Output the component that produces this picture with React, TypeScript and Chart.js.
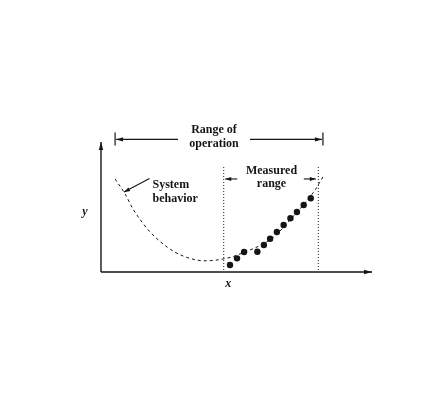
import React, { useEffect, useRef } from "react";
import { Chart, registerables } from "chart.js";
Chart.register(...registerables);

// System behavior curve (dashed)
const curveX = [5.2, 8.9, 11.8, 15.1, 18.1, 24.4, 30.3, 38.4, 47.6, 53.1, 58.7, 64.2, 69.7, 75.3, 79.0, 81.9];
const curveY = [71.5, 60, 48.5, 38.5, 30.8, 19.2, 12.3, 8.6, 11.2, 15.4, 20.4, 27.7, 40, 53.1, 63.1, 73.1];
// Measured points
const measuredX = [47.6, 50.2, 52.8, 57.7, 60.1, 62.4, 64.9, 67.4, 69.9, 72.3, 74.8, 77.4];
const measuredY = [5.4, 10.5, 15.4, 15.6, 20.8, 25.6, 30.8, 36.2, 41.3, 46.2, 51.5, 56.7];
// Ranges
const operationRange = [5.2, 81.9];
const operationLevel = 102;
const measuredRange = [45.1, 80.0];
const measuredTop = 80.8;
// Text
const operationLabel = ["Range of", "operation"];
const measuredLabel = ["Measured", "range"];
const behaviorLabel = ["System", "behavior"];
const xLabel = "x";
const yLabel = "y";

const INK = "#151515";
const FONT = "bold 12px 'Liberation Serif', 'Times New Roman', serif";

function arrow(ctx: CanvasRenderingContext2D, x1: number, y1: number, x2: number, y2: number, len = 7, half = 2.2) {
  ctx.beginPath();
  ctx.moveTo(x1, y1);
  ctx.lineTo(x2, y2);
  ctx.stroke();
  const a = Math.atan2(y2 - y1, x2 - x1);
  ctx.beginPath();
  ctx.moveTo(x2, y2);
  ctx.lineTo(x2 - len * Math.cos(a) + half * Math.sin(a), y2 - len * Math.sin(a) - half * Math.cos(a));
  ctx.lineTo(x2 - len * Math.cos(a) - half * Math.sin(a), y2 - len * Math.sin(a) + half * Math.cos(a));
  ctx.closePath();
  ctx.fill();
}

const decor = {
  id: "decor",
  afterDatasetsDraw(chart: any) {
    const { ctx, chartArea } = chart;
    const xs = chart.scales.x;
    const ys = chart.scales.y;
    const X = (v: number) => xs.getPixelForValue(v);
    const Y = (v: number) => ys.getPixelForValue(v);
    ctx.save();
    ctx.strokeStyle = INK;
    ctx.fillStyle = INK;

    // axes
    ctx.lineWidth = 1.4;
    arrow(ctx, chartArea.left, chartArea.bottom, chartArea.left, chartArea.top, 8, 2.2);
    arrow(ctx, chartArea.left, chartArea.bottom, chartArea.right, chartArea.bottom, 8, 2.2);

    // dotted verticals for measured range
    ctx.lineWidth = 1;
    ctx.setLineDash([1, 2]);
    for (const v of measuredRange) {
      ctx.beginPath();
      ctx.moveTo(X(v) + 0.5, Y(measuredTop));
      ctx.lineTo(X(v) + 0.5, chartArea.bottom);
      ctx.stroke();
    }
    ctx.setLineDash([]);

    // operation bracket
    const oy = Y(operationLevel);
    const oL = X(operationRange[0]);
    const oR = X(operationRange[1]);
    ctx.lineWidth = 1.2;
    ctx.beginPath();
    ctx.moveTo(oL, oy - 7);
    ctx.lineTo(oL, oy + 6);
    ctx.moveTo(oR, oy - 7);
    ctx.lineTo(oR, oy + 6);
    ctx.stroke();
    const oc = (oL + oR) / 2 - 5;
    arrow(ctx, oc - 36, oy, oL + 1, oy, 7, 2.2);
    arrow(ctx, oc + 36, oy, oR - 1, oy, 7, 2.2);

    ctx.font = FONT;
    ctx.textAlign = "center";
    ctx.textBaseline = "alphabetic";
    ctx.fillText(operationLabel[0], oc, oy - 6);
    ctx.fillText(operationLabel[1], oc, oy + 8);

    // measured range
    const mL = X(measuredRange[0]);
    const mR = X(measuredRange[1]);
    const mc = (mL + mR) / 2 + 1;
    const my = Y(measuredTop) + 12;
    ctx.fillText(measuredLabel[0], mc, my - 5);
    ctx.fillText(measuredLabel[1], mc, my + 8);
    ctx.lineWidth = 1.1;
    arrow(ctx, mL + 14, my, mL + 2, my, 6, 2);
    arrow(ctx, mR - 14, my, mR - 2, my, 6, 2);

    // system behavior label
    const bx = X(19);
    const by = Y(65);
    ctx.textAlign = "left";
    ctx.fillText(behaviorLabel[0], bx, by);
    ctx.fillText(behaviorLabel[1], bx, by + 14);
    arrow(ctx, bx - 3, by - 9, X(8.5), Y(61.5), 6, 2);

    // axis labels
    ctx.font = "italic bold 12px 'Liberation Serif', serif";
    ctx.textAlign = "center";
    ctx.textBaseline = "middle";
    ctx.fillText(yLabel, chartArea.left - 16, Y(46));
    ctx.fillText(xLabel, X(47), chartArea.bottom + 12);
    ctx.restore();
  },
};

export default function App() {
  const ref = useRef<HTMLCanvasElement | null>(null);
  useEffect(() => {
    if (!ref.current) return;
    const chart = new Chart(ref.current, {
      type: "scatter",
      data: {
        datasets: [
          {
            data: curveX.map((x, i) => ({ x, y: curveY[i] })),
            showLine: true,
            borderColor: INK,
            borderWidth: 1,
            borderDash: [3, 3],
            pointRadius: 0,
            cubicInterpolationMode: "monotone",
            clip: false,
          } as any,
          {
            data: measuredX.map((x, i) => ({ x, y: measuredY[i] })),
            showLine: false,
            pointRadius: 3.2,
            backgroundColor: INK,
            borderColor: INK,
            borderWidth: 0,
            clip: false,
          } as any,
        ],
      },
      options: {
        animation: false,
        responsive: false,
        layout: { padding: { left: 101, right: 65, top: 142, bottom: 148 } },
        scales: {
          x: { type: "linear", min: 0, max: 100, display: false },
          y: { type: "linear", min: 0, max: 100, display: false },
        },
        plugins: { legend: { display: false }, tooltip: { enabled: false } },
      },
      plugins: [decor],
    });
    return () => chart.destroy();
  }, []);
  return (
    <div style={{ position: "fixed", left: 0, top: 0, width: 437, height: 420, background: "#fff" }}>
      <canvas ref={ref} width={437} height={420} style={{ width: 437, height: 420 }} />
    </div>
  );
}
